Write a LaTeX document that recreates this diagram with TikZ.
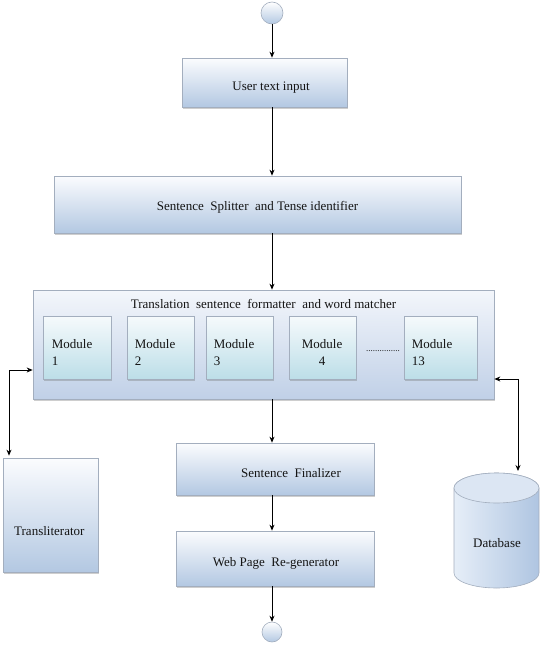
\documentclass[tikz,border=0pt]{standalone}
\usepackage{fontspec}
\setmainfont{Liberation Serif}
\newfontfamily\timesx{Liberation Serif}
\usetikzlibrary{arrows.meta,shadows,calc}
\definecolor{boxtop}{HTML}{FBFCFE}
\definecolor{boxbot}{HTML}{B3C8E2}
\definecolor{modtop}{HTML}{F6FAFC}
\definecolor{modbot}{HTML}{BCDEE8}
\definecolor{bigtop}{HTML}{F3F6FB}
\definecolor{bigbot}{HTML}{C0D0E7}
\definecolor{edge}{HTML}{A3AEBE}
\definecolor{ink}{HTML}{141414}
\definecolor{dbside}{HTML}{AFC5E1}
\definecolor{dbmid}{HTML}{E6EEF8}
\definecolor{dbtop}{HTML}{DCE6F3}
\begin{document}
\begin{tikzpicture}[x=1pt,y=-1pt,
  font=\timesx\fontsize{13}{17}\selectfont, text=ink,
  blockbox/.style={draw=edge, line width=0.7pt, top color=boxtop, bottom color=boxbot,
    inner sep=0pt, drop shadow={shadow xshift=1.2pt, shadow yshift=-1.6pt, opacity=.35, fill=black!55}},
  modbox/.style={blockbox, top color=modtop, bottom color=modbot},
  bigbox/.style={blockbox, top color=bigtop, bottom color=bigbot},
  modtext/.style={align=left, anchor=north west, inner sep=0pt},
  term/.style={circle, draw=edge, line width=0.6pt, inner sep=0pt, top color=white, bottom color=boxbot},
  arr/.style={-{Stealth[length=6pt,width=5pt]}, line width=0.8pt, black},
  darr/.style={{Stealth[length=6pt,width=5pt]}-{Stealth[length=6pt,width=5pt]}, line width=0.8pt, black}
]
\useasboundingbox (0,0) rectangle (540,645);

% terminals
\node[term, minimum size=22pt] (start) at (272,13) {};
\node[term, minimum size=20pt] (stop) at (272,632) {};

% main boxes
\node[blockbox, minimum width=165pt, minimum height=49pt,
  label={[xshift=6.5pt, yshift=-5pt]center:User text input}] (user) at (264.5,82.5) {};
\node[blockbox, minimum width=407pt, minimum height=57pt,
  label={[yshift=-3pt]center:Sentence\ \ Splitter\ \ and Tense identifier}] (split) at (257.5,204.5) {};
\node[bigbox, minimum width=461pt, minimum height=109pt,
  label={[yshift=40.5pt]center:Translation\ \ sentence\ \ formatter\ \ and word matcher}] (big) at (263.5,344.5) {};

% modules
\node[modbox, minimum width=68pt, minimum height=63pt,
  label={[modtext, xshift=9pt, yshift=-23.5pt]north west:Module\\1}] (m1) at (77,347.5) {};
\node[modbox, minimum width=67pt, minimum height=63pt,
  label={[modtext, xshift=8pt, yshift=-23.5pt]north west:Module\\2}] (m2) at (160.5,347.5) {};
\node[modbox, minimum width=67pt, minimum height=63pt,
  label={[modtext, xshift=8pt, yshift=-23.5pt]north west:Module\\3}] (m3) at (239.5,347.5) {};
\node[modbox, minimum width=67pt, minimum height=63pt,
  label={[modtext, align=center, xshift=13pt, yshift=-23.5pt]north west:Module\\4}] (m4) at (322.5,347.5) {};
\node[modbox, minimum width=73pt, minimum height=63pt,
  label={[modtext, xshift=8pt, yshift=-23.5pt]north west:Module\\13}] (m13) at (440.5,347.5) {};
\node[font=\timesx\fontsize{9}{10}\selectfont, inner sep=0pt] (dots) at (383,351) {...............};

% lower boxes
\node[blockbox, minimum width=198pt, minimum height=52pt,
  label={[xshift=16pt, yshift=-4pt]center:Sentence\ \ Finalizer}] (fin) at (275,469) {};
\node[blockbox, minimum width=198pt, minimum height=55pt,
  label={[xshift=1pt, yshift=-5pt]center:Web Page\ \ Re-generator}] (web) at (275,558.5) {};
\node[blockbox, minimum width=95pt, minimum height=114pt,
  label={[anchor=west, xshift=8pt, yshift=-16pt]west:Transliterator}] (trans) at (50.5,515) {};

% database cylinder
\draw[draw=edge, line width=0.6pt, left color=dbmid, right color=dbside]
  (454,488) -- (454,573) arc[start angle=180, end angle=0, x radius=42.5, y radius=15]
  -- (539,488) arc[start angle=0, end angle=-180, x radius=42.5, y radius=15] -- cycle;
\draw[draw=edge, line width=0.6pt, fill=dbtop] (496.5,488) ellipse [x radius=42.5, y radius=15];
\node (db) at (497,543) {Database};
\coordinate (dbtopc) at (518,471);

% connectors
\draw[arr] (start.south) -- (start.south |- user.north);
\draw[arr] (start |- user.south) -- (start |- split.north);
\draw[arr] (start |- split.south) -- (start |- big.north);
\draw[arr] (start |- big.south) -- (start |- fin.north);
\draw[arr] (start |- fin.south) -- (start |- web.north);
\draw[arr] (start |- web.south) -- (stop.north);

\coordinate (lc) at (9,370);
\draw[darr] (big.west |- lc) -- (lc) -- ($(lc |- trans.north)+(0,-2)$);
\coordinate (rc) at (518,379);
\draw[darr] (big.east |- rc) -- (rc) -- (dbtopc);
\end{tikzpicture}
\end{document}
